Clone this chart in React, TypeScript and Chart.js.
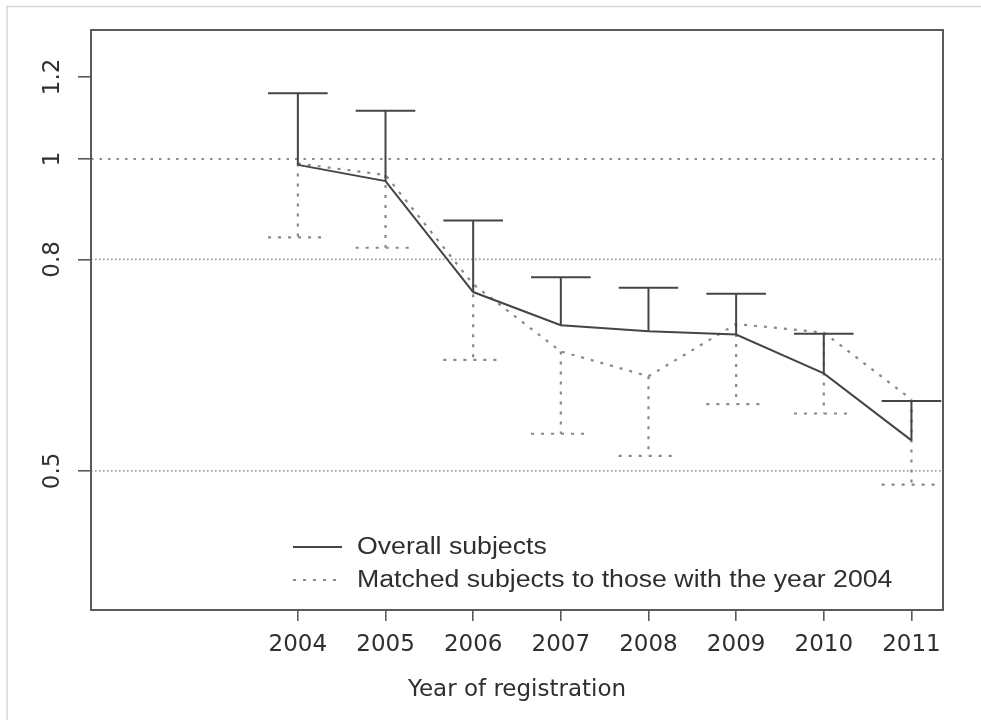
import { useEffect, useRef } from "react";
import { Chart, registerables } from "chart.js";

Chart.register(...registerables);

// Registration years on the x axis
const years = [2004, 2005, 2006, 2007, 2008, 2009, 2010, 2011];
const xTickLabels = ["2004", "2005", "2006", "2007", "2008", "2009", "2010", "2011"];

// Overall subjects: estimate and upper confidence limit
const overall = [0.987, 0.952, 0.744, 0.691, 0.682, 0.677, 0.621, 0.535];
const overallUpper = [1.157, 1.113, 0.872, 0.769, 0.751, 0.741, 0.678, 0.584];

// Matched subjects: estimate and lower confidence limit
const matched = [0.99, 0.965, 0.757, 0.652, 0.617, 0.693, 0.68, 0.586];
const matchedLower = [0.84, 0.821, 0.64, 0.543, 0.517, 0.58, 0.568, 0.485];

// Horizontal reference levels and y axis ticks (log scale)
const refLevels = [1, 0.8, 0.5];
const yTicks = [0.5, 0.8, 1, 1.2];
const yTickLabels = ["0.5", "0.8", "1", "1.2"];

const seriesNames = ["Overall subjects", "Matched subjects to those with the year 2004"];
const xTitle = "Year of registration";

const X_MIN = 2001.64;
const X_MAX = 2011.36;
const Y_MIN = 0.367;
const Y_MAX = 1.332;
const CAP_HALF = 0.34;

const SOLID = "#454545";
const DOTTED = "#888888";
const AXIS = "#5a5a5a";
const TEXT = "#2f2f2f";

type Pt = { x: number; y: number | null };

function linePoints(xs: number[], ys: number[]): Pt[] {
  return xs.map((x, i) => ({ x, y: ys[i] }));
}

// One vertical whisker per year from the estimate to the limit, with a cap at the limit
function whiskers(xs: number[], from: number[], to: number[]): Pt[] {
  const pts: Pt[] = [];
  xs.forEach((x, i) => {
    pts.push({ x, y: from[i] }, { x, y: to[i] }, { x, y: null });
    pts.push({ x: x - CAP_HALF, y: to[i] }, { x: x + CAP_HALF, y: to[i] }, { x, y: null });
  });
  return pts;
}

const pagePlugin = {
  id: "pageFrame",
  beforeDraw(chart: any) {
    const { ctx, width, height } = chart;
    ctx.save();
    ctx.fillStyle = "#ffffff";
    ctx.fillRect(0, 0, width, height);
    ctx.strokeStyle = "#d6d6d6";
    ctx.lineWidth = 1.5;
    ctx.beginPath();
    ctx.moveTo(7, height);
    ctx.lineTo(7, 6.5);
    ctx.lineTo(width, 6.5);
    ctx.stroke();
    ctx.restore();
  },
  afterDraw(chart: any) {
    const { ctx, chartArea } = chart;
    ctx.save();
    ctx.strokeStyle = AXIS;
    ctx.lineWidth = 2;
    ctx.strokeRect(chartArea.left, chartArea.top, chartArea.right - chartArea.left, chartArea.bottom - chartArea.top);
    ctx.restore();
  },
};

const legendPlugin = {
  id: "insetLegend",
  afterDraw(chart: any) {
    const { ctx, chartArea } = chart;
    const rows = [
      { ds: chart.data.datasets[3], text: seriesNames[0], y: chartArea.bottom - 63 },
      { ds: chart.data.datasets[5], text: seriesNames[1], y: chartArea.bottom - 30 },
    ];
    const x0 = chartArea.left + 202;
    const x1 = chartArea.left + 251;
    const tx = chartArea.left + 266;
    ctx.save();
    rows.forEach((r) => {
      ctx.strokeStyle = r.ds.borderColor;
      ctx.lineWidth = r.ds.borderWidth;
      ctx.setLineDash(r.ds.borderDash || []);
      ctx.beginPath();
      ctx.moveTo(x0, r.y);
      ctx.lineTo(x1, r.y);
      ctx.stroke();
      ctx.setLineDash([]);
      ctx.save();
      ctx.translate(tx, r.y);
      ctx.scale(1.16, 1);
      ctx.fillStyle = TEXT;
      ctx.font = '23px "Liberation Sans", Arial, sans-serif';
      ctx.textBaseline = "middle";
      ctx.textAlign = "left";
      ctx.fillText(r.text, 0, 1);
      ctx.restore();
    });
    ctx.restore();
  },
};

export default function App() {
  const canvasRef = useRef<HTMLCanvasElement | null>(null);

  useEffect(() => {
    const canvas = canvasRef.current;
    if (!canvas) return;

    const refSets = refLevels.map((lvl) => ({
      data: [
        { x: X_MIN, y: lvl },
        { x: X_MAX, y: lvl },
      ],
      borderColor: lvl === 1 ? "#8c8c8c" : "#a0a0a0",
      borderWidth: lvl === 1 ? 2 : 1.6,
      borderDash: lvl === 1 ? [2.5, 6] : [1.6, 2.4],
      pointRadius: 0,
      order: 5,
    }));

    const chart = new Chart(canvas, {
      type: "line",
      data: {
        datasets: [
          ...refSets,
          {
            label: seriesNames[0],
            data: linePoints(years, overall),
            borderColor: SOLID,
            borderWidth: 2,
            pointRadius: 0,
            order: 1,
          },
          {
            data: whiskers(years, overall, overallUpper),
            borderColor: SOLID,
            borderWidth: 2,
            pointRadius: 0,
            spanGaps: false,
            order: 1,
          },
          {
            label: seriesNames[1],
            data: linePoints(years, matched),
            borderColor: DOTTED,
            borderWidth: 2.2,
            borderDash: [3, 7],
            pointRadius: 0,
            order: 2,
          },
          {
            data: whiskers(years, matched, matchedLower),
            borderColor: DOTTED,
            borderWidth: 2.2,
            borderDash: [3, 7],
            pointRadius: 0,
            spanGaps: false,
            order: 2,
          },
        ] as any,
      },
      options: {
        animation: false,
        responsive: false,
        events: [],
        layout: { padding: { left: 0, top: 30, right: 38, bottom: 0 } },
        elements: { line: { tension: 0, fill: false } },
        plugins: { legend: { display: false }, tooltip: { enabled: false } },
        scales: {
          x: {
            type: "linear",
            min: X_MIN,
            max: X_MAX,
            border: { display: false },
            grid: { drawOnChartArea: false, drawTicks: true, tickLength: 11, color: AXIS, lineWidth: 1.6 },
            afterBuildTicks: (scale: any) => {
              scale.ticks = years.map((v) => ({ value: v }));
            },
            afterFit: (scale: any) => {
              scale.height = 110;
            },
            ticks: {
              autoSkip: false,
              maxRotation: 0,
              padding: 10,
              color: TEXT,
              font: { family: '"DejaVu Sans", sans-serif', size: 23 },
              callback: (_v: any, i: number) => xTickLabels[i],
            },
            title: {
              display: true,
              text: xTitle,
              color: TEXT,
              font: { family: '"DejaVu Sans", sans-serif', size: 23 },
              padding: { top: 0, bottom: 16 },
            },
          },
          y: {
            type: "logarithmic",
            min: Y_MIN,
            max: Y_MAX,
            border: { display: false },
            grid: { drawOnChartArea: false, drawTicks: true, tickLength: 13, color: AXIS, lineWidth: 1.6 },
            afterBuildTicks: (scale: any) => {
              scale.ticks = yTicks.map((v) => ({ value: v }));
            },
            afterFit: (scale: any) => {
              scale.width = 91;
            },
            ticks: {
              autoSkip: false,
              minRotation: 90,
              maxRotation: 90,
              crossAlign: "center",
              padding: 7,
              color: TEXT,
              font: { family: '"DejaVu Sans", sans-serif', size: 23 },
              callback: (_v: any, i: number) => yTickLabels[i],
            },
          },
        },
      },
      plugins: [pagePlugin, legendPlugin],
    } as any);

    return () => chart.destroy();
  }, []);

  return (
    <div style={{ position: "absolute", left: 0, top: 0, width: 981, height: 720, background: "#fff" }}>
      <canvas ref={canvasRef} width={981} height={720} style={{ display: "block" }} />
    </div>
  );
}
